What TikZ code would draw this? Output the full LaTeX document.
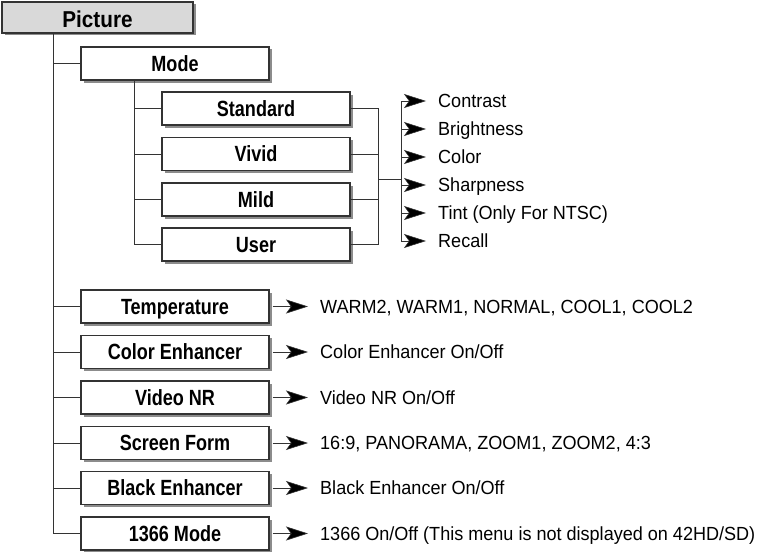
\documentclass[tikz,border=0pt]{standalone}
\usepackage{fontspec}
\setmainfont{Liberation Sans}
\newfontfamily\boxfont[FakeStretch=0.82]{Liberation Sans}
\newfontfamily\titlefont[FakeStretch=0.9]{Liberation Sans}
\newfontfamily\itemfont[FakeStretch=0.95]{Liberation Sans}
\usetikzlibrary{arrows.meta,shadows}
\begin{document}
\begin{tikzpicture}[x=1pt,y=-1pt,
  menubox/.style={draw=black!80, line width=1.1pt, fill=white, minimum width=188pt, minimum height=33pt,
     inner sep=0pt, font=\boxfont\fontsize{22}{24}\selectfont\bfseries, text height=15.7pt, text depth=0pt,
     drop shadow={shadow xshift=2.5pt, shadow yshift=-2.5pt, fill=black!45, opacity=1}},
  titlebox/.style={menubox, fill=black!15, minimum width=191pt, minimum height=31pt,
     font=\titlefont\fontsize{23}{25}\selectfont\bfseries, text height=21pt, text depth=0pt},
  itemtext/.style={anchor=west, inner xsep=12pt, inner ysep=0pt, font=\itemfont\fontsize{19}{21}\selectfont,
     text height=13.6pt, text depth=0pt},
  conn/.style={draw=black!80, line width=0.9pt},
  arr/.style={conn, -{Stealth[length=22pt, width=14pt, inset=5pt, line width=0.6pt, fill=black]}}
]
\useasboundingbox (0,0) rectangle (762,551);

% boxes
\node[titlebox] (pic) at (97.5,17.5) {Picture};
\node[menubox] (mode) at (175,63.5) {Mode};
\node[menubox] (std) at (256,108.5) {Standard};
\node[menubox] (viv) at (256,154) {Vivid};
\node[menubox] (mild) at (256,199.5) {Mild};
\node[menubox] (user) at (256,244.5) {User};
\node[menubox] (temp) at (175,306.5) {Temperature};
\node[menubox] (cenh) at (175,352) {Color Enhancer};
\node[menubox] (vnr) at (175,397.5) {Video NR};
\node[menubox] (sform) at (175,443) {Screen Form};
\node[menubox] (benh) at (175,488) {Black Enhancer};
\node[menubox] (m1366) at (175,533.5) {1366 Mode};

% sub-items
\node[itemtext] (contrast) at (426,101) {Contrast};
\node[itemtext] (bright) at (426,129) {Brightness};
\node[itemtext] (color) at (426,157) {Color};
\node[itemtext] (sharp) at (426,185) {Sharpness};
\node[itemtext] (tint) at (426,213) {Tint (Only For NTSC)};
\node[itemtext] (recall) at (426,241) {Recall};

\node[itemtext] (ttemp) at (308,306.5) {WARM2, WARM1, NORMAL, COOL1, COOL2};
\node[itemtext] (tcenh) at (308,352) {Color Enhancer On/Off};
\node[itemtext] (tvnr) at (308,397.5) {Video NR On/Off};
\node[itemtext] (tsform) at (308,443) {16:9, PANORAMA, ZOOM1, ZOOM2, 4:3};
\node[itemtext] (tbenh) at (308,488) {Black Enhancer On/Off};
\node[itemtext] (t1366) at (308,533.5) {1366 On/Off (This menu is not displayed on 42HD/SD)};

% main trunk
\coordinate (t0) at ([xshift=-44.5pt]pic.south);
\draw[conn] (t0) |- (m1366.west);
\foreach \b in {mode,temp,cenh,vnr,sform,benh}
  \draw[conn] (t0 |- \b.west) -- (\b.west);

% mode sub trunk
\coordinate (s0) at ([xshift=-41pt]mode.south);
\draw[conn] (s0) |- (user.west);
\foreach \b in {std,viv,mild}
  \draw[conn] (s0 |- \b.west) -- (\b.west);

% right collector
\coordinate (r0) at (378,179);
\coordinate (v0) at (401,179);
\draw[conn] (std.east) -- (std.east -| r0) -- (user.east -| r0) -- (user.east);
\foreach \b in {viv,mild}
  \draw[conn] (\b.east) -- (\b.east -| r0);
\draw[conn] (r0) -- (v0);
\draw[conn] (v0 |- contrast.west) -- (v0 |- recall.west);
\foreach \t in {contrast,bright,color,sharp,tint,recall}
  \draw[arr] (v0 |- \t.west) -- (\t.west);

% lower arrows
\draw[arr, shorten <=3pt] (temp.east) -- (ttemp.west);
\draw[arr, shorten <=3pt] (cenh.east) -- (tcenh.west);
\draw[arr, shorten <=3pt] (vnr.east) -- (tvnr.west);
\draw[arr, shorten <=3pt] (sform.east) -- (tsform.west);
\draw[arr, shorten <=3pt] (benh.east) -- (tbenh.west);
\draw[arr, shorten <=3pt] (m1366.east) -- (t1366.west);
\end{tikzpicture}
\end{document}
